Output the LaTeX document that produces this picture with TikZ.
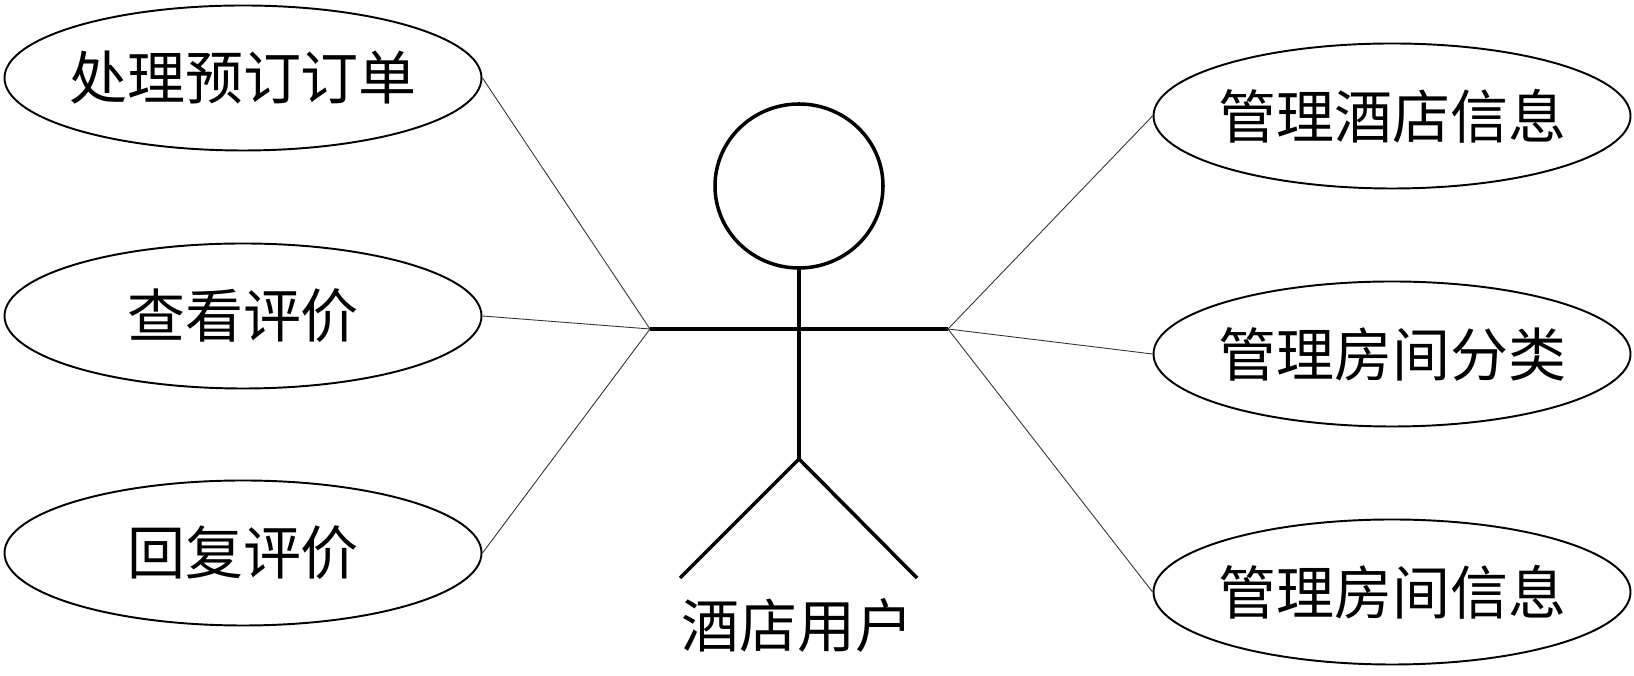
\documentclass[tikz,border=0pt]{standalone}
\usepackage{fontspec}
\newfontfamily\cjk{Noto Sans CJK SC}
\usetikzlibrary{shapes.geometric}

\begin{document}
\begin{tikzpicture}[
    usecase/.style={draw, ellipse, line width=1.1pt, inner ysep=0pt, inner xsep=-0.6cm,
      minimum width=9.54cm, minimum height=2.9cm,
      font=\cjk\fontsize{33}{38}\selectfont},
    limb/.style={line width=2pt},
    link/.style={line width=0.5pt, black!80}
  ]

    % Fix the page size
    \useasboundingbox (0, 0) rectangle (32.68, 13.52);

    % Define the coordinates of the actor
    \coordinate (H) at (15.98, 9.80);      % Centre of the head
    \coordinate (N) at (15.98, 8.16);      % Neck
    \coordinate (A) at (15.98, 6.94);      % Middle of the arms
    \coordinate (AL) at (13.00, 6.94);     % Left hand
    \coordinate (AR) at (18.96, 6.94);     % Right hand
    \coordinate (W) at (15.98, 4.34);      % Hip
    \coordinate (FL) at (13.60, 1.96);     % Left foot
    \coordinate (FR) at (18.34, 1.96);     % Right foot

    % Draw the actor
    \draw[limb] (H) ellipse [x radius=1.68, y radius=1.64];  % Head
    \draw[limb] (N) -- (W);                % Body
    \draw[limb] (AL) -- (AR);              % Arms
    \draw[limb] (FL) -- (W) -- (FR);       % Legs

    % Label the actor
    \node[font=\cjk\fontsize{33}{38}\selectfont] (actor) at (15.94, 1.02) {酒店用户};

    % Use cases on the left
    \node[usecase] (order) at (4.86, 11.96) {处理预订订单};
    \node[usecase] (view) at (4.86, 7.20) {查看评价};
    \node[usecase] (reply) at (4.86, 2.46) {回复评价};

    % Use cases on the right
    \node[usecase] (hotel) at (27.84, 11.20) {管理酒店信息};
    \node[usecase] (kind) at (27.84, 6.44) {管理房间分类};
    \node[usecase] (room) at (27.84, 1.68) {管理房间信息};

    % Connect the left hand to the left use cases
    \draw[link] (AL) -- (order.east);
    \draw[link] (AL) -- (view.east);
    \draw[link] (AL) -- (reply.east);

    % Connect the right hand to the right use cases
    \draw[link] (AR) -- (hotel.west);
    \draw[link] (AR) -- (kind.west);
    \draw[link] (AR) -- (room.west);

\end{tikzpicture}
\end{document}
